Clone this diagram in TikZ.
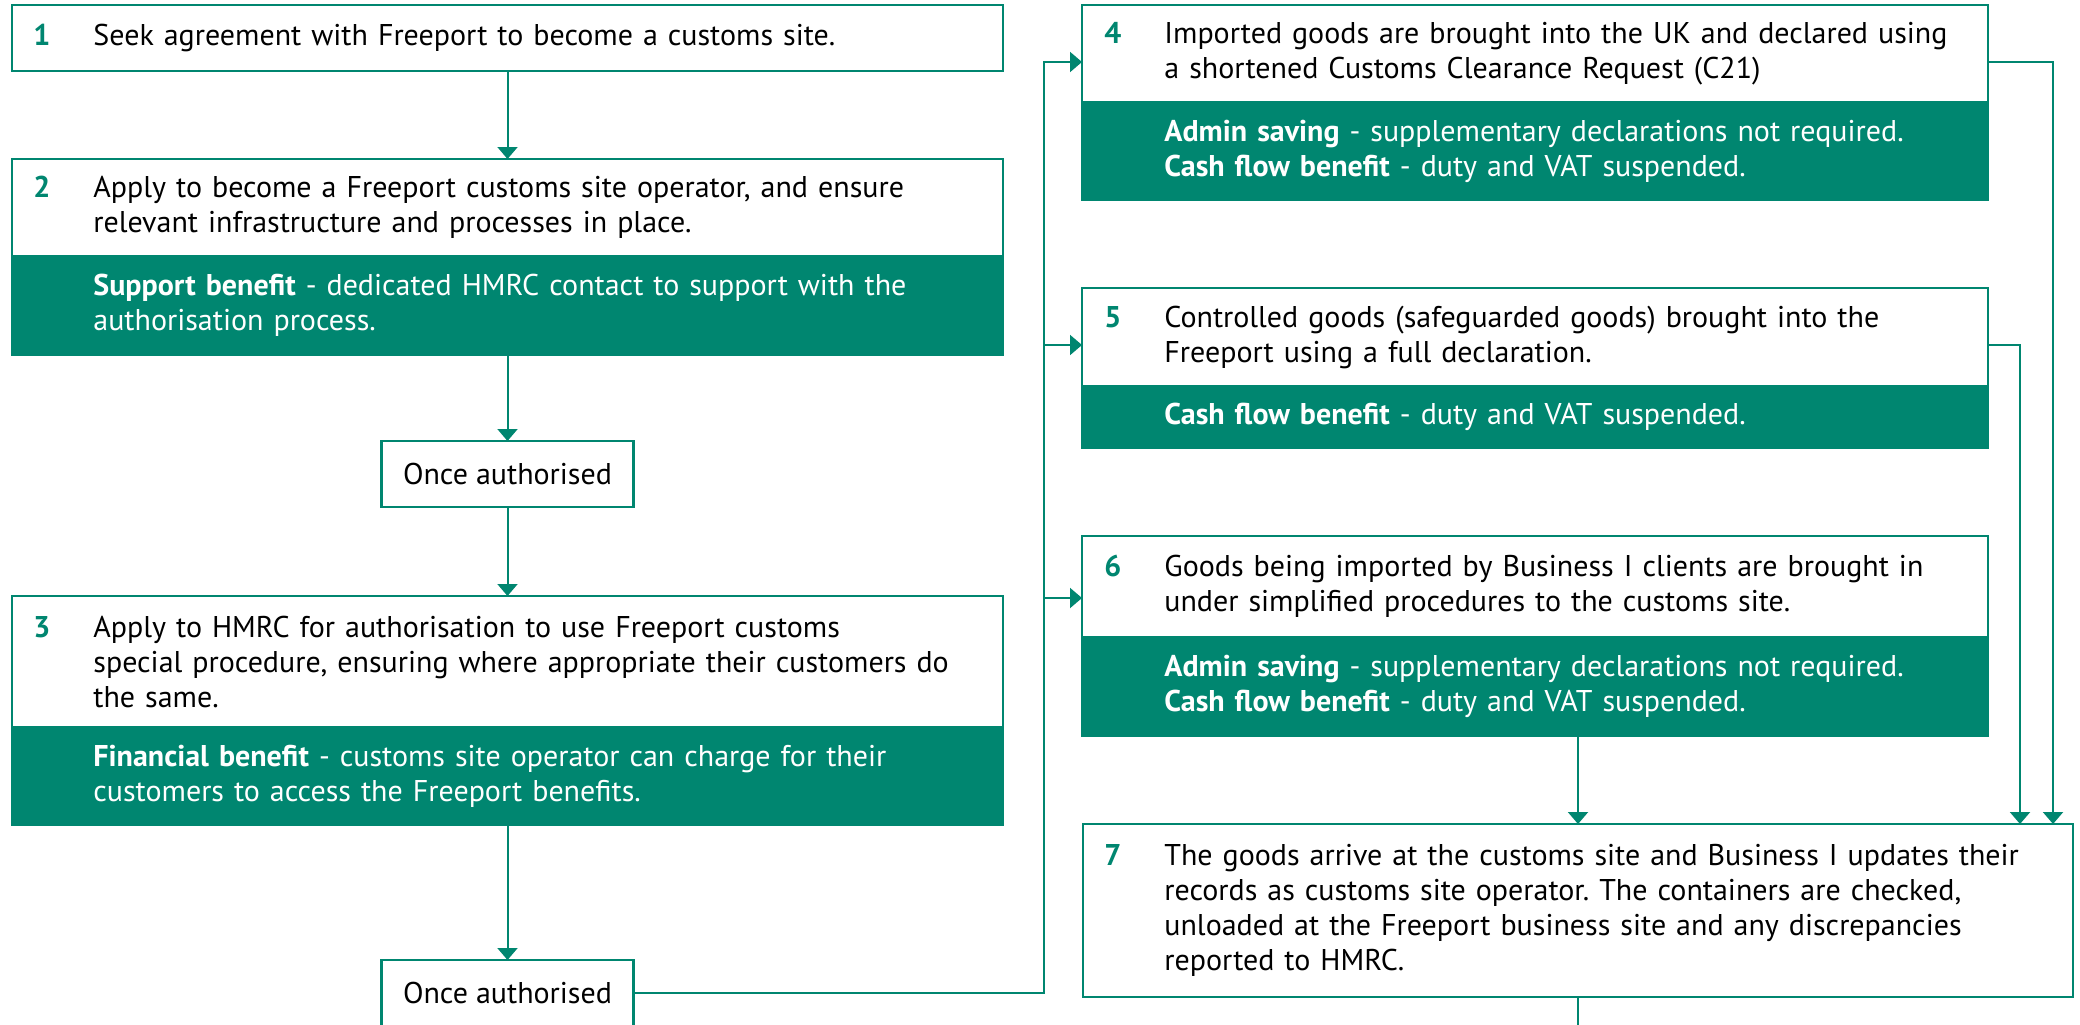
\documentclass[tikz,border=0pt]{standalone}
\usepackage{fontspec}
\setmainfont{PT Sans}
\usetikzlibrary{arrows.meta,calc}
\definecolor{hgreen}{HTML}{008670}
\setlength\parindent{0pt}
\frenchspacing
\newcommand{\stepnum}[1]{\llap{\makebox[30pt][l]{\textbf{\color{hgreen}#1}}}}
\tikzset{
  wbox/.style={draw=hgreen, line width=1.2pt, fill=white, inner sep=0pt, outer sep=0pt},
  gbox/.style={fill=hgreen, draw=hgreen, line width=1.2pt, inner sep=0pt, outer sep=0pt},
  txt/.style={anchor=west, align=left, text width=460pt, inner sep=0pt, font=\fontsize{15pt}{17.5pt}\selectfont\frenchspacing, text=black},
  gtxt/.style={txt, text=white},
  otxt/.style={font=\fontsize{15pt}{17.5pt}\selectfont, text=black},
  conn/.style={draw=hgreen, line width=1pt},
  arr/.style={conn, -{Triangle[width=10pt,length=6pt]}},
}
\begin{document}
\begin{tikzpicture}[x=0.5pt,y=-0.5pt]
\useasboundingbox (0,0) rectangle (2080,1024);
\fill[white] (0,0) rectangle (2080,1024);

% left column
\node[wbox, minimum width=495.5pt, minimum height=33pt] (b1) at (507.5,38) {};
\node[txt] (t1) at (93,38) {\stepnum{1}Seek agreement with Freeport to become a customs site.};

\node[wbox, minimum width=495.5pt, minimum height=48.5pt] (b2) at (507.5,207.5) {};
\node[gbox, minimum width=495.5pt, minimum height=49.5pt] (g2) at (507.5,305.5) {};
\node[txt] (t2) at (93,207.5) {\stepnum{2}Apply to become a Freeport customs site operator, and ensure\\relevant infrastructure and processes in place.};
\node[gtxt] (u2) at (93,305.5) {\textbf{Support benefit} - dedicated HMRC contact to support with the\\authorisation process.};

\node[wbox, minimum width=126pt, minimum height=33pt, otxt] (o1) at (507.5,474) {Once authorised};

\node[wbox, minimum width=495.5pt, minimum height=65.5pt] (b3) at (507.5,661.5) {};
\node[gbox, minimum width=495.5pt, minimum height=49pt] (g3) at (507.5,776) {};
\node[txt] (t3) at (93,661.5) {\stepnum{3}Apply to HMRC for authorisation to use Freeport customs\\special procedure, ensuring where appropriate their customers do\\the same.};
\node[gtxt] (u3) at (93,776) {\textbf{Financial benefit} - customs site operator can charge for their\\customers to access the Freeport benefits.};

\node[wbox, minimum width=126pt, minimum height=33pt, otxt] (o2) at (507.5,993) {Once authorised};

% right column
\node[wbox, minimum width=453pt, minimum height=48.5pt] (b4) at (1535,53.5) {};
\node[gbox, minimum width=453pt, minimum height=49pt] (g4) at (1535,151) {};
\node[txt] (t4) at (1164,53.5) {\stepnum{4}Imported goods are brought into the UK and declared using\\a shortened Customs Clearance Request (C21)};
\node[gtxt] (u4) at (1164,151) {\textbf{Admin saving} - supplementary declarations not required.\\\textbf{Cash flow benefit} - duty and VAT suspended.};

\node[wbox, minimum width=453pt, minimum height=49pt] (b5) at (1535,337) {};
\node[gbox, minimum width=453pt, minimum height=31pt] (g5) at (1535,417) {};
\node[txt] (t5) at (1164,337) {\stepnum{5}Controlled goods (safeguarded goods) brought into the\\Freeport using a full declaration.};
\node[gtxt] (u5) at (1164,417) {\textbf{Cash flow benefit} - duty and VAT suspended.};

\node[wbox, minimum width=453pt, minimum height=50.5pt] (b6) at (1535,586.5) {};
\node[gbox, minimum width=453pt, minimum height=49.5pt] (g6) at (1535,686.5) {};
\node[txt] (t6) at (1164,586.5) {\stepnum{6}Goods being imported by Business I clients are brought in\\under simplified procedures to the customs site.};
\node[gtxt] (u6) at (1164,686.5) {\textbf{Admin saving} - supplementary declarations not required.\\\textbf{Cash flow benefit} - duty and VAT suspended.};

\node[wbox, minimum width=495pt, minimum height=86.5pt] (b7) at (1578,910.5) {};
\node[txt] (t7) at (1164,910.5) {\stepnum{7}The goods arrive at the customs site and Business I updates their\\records as customs site operator. The containers are checked,\\unloaded at the Freeport business site and any discrepancies\\reported to HMRC.};

% connectors
\coordinate (bus4) at (1044,62);
\coordinate (bus5) at (1044,345);
\coordinate (bus6) at (1044,598);
\coordinate (r4) at (2053,62);
\coordinate (r5) at (2020,345);
\coordinate (end7) at (1578,1030);

\draw[arr] (b1.south) -- (b2.north);
\draw[arr] (g2.south) -- (o1.north);
\draw[arr] (o1.south) -- (b3.north);
\draw[arr] (g3.south) -- (o2.north);
\draw[arr] (o2.east) -| (bus4) -- (bus4 -| b4.west);
\draw[arr] (bus5) -- (bus5 -| b5.west);
\draw[arr] (bus6) -- (bus6 -| b6.west);
\draw[arr] (r4 -| b4.east) -- (r4) -- (r4 |- b7.north);
\draw[arr] (r5 -| b5.east) -- (r5) -- (r5 |- b7.north);
\draw[arr] (b7.north |- g6.south) -- (b7.north);
\draw[conn] (b7.south) -- (end7);
\end{tikzpicture}
\end{document}
